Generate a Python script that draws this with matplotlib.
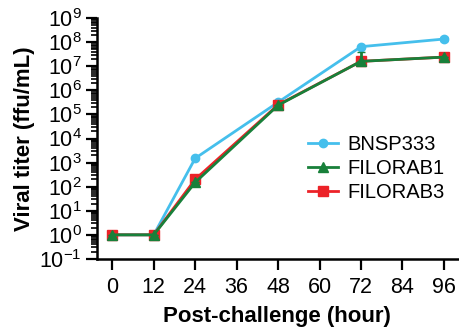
import matplotlib.pyplot as plt
from matplotlib.lines import Line2D
from matplotlib.ticker import LogLocator

plt.rcParams['font.family'] = ['Liberation Sans', 'DejaVu Sans']
plt.rcParams['mathtext.fontset'] = 'custom'
plt.rcParams['mathtext.rm'] = 'Liberation Sans'

hours = [0, 12, 24, 48, 72, 96]
bnsp333 = [1, 1, 1.5e3, 3.2e5, 6.5e7, 1.35e8]
bnsp333_err = [0, 0, 0, 0, 0, 2.5e7]
filorab1 = [1, 1, 1.5e2, 2.4e5, 1.6e7, 2.4e7]
filorab1_err = [0, 0, 0, 0, 2.2e7, 0]
filorab3 = [1, 1, 2.0e2, 2.5e5, 1.6e7, 2.4e7]

blue = '#45BFEC'
green = '#18803A'
red = '#EC2228'

fig = plt.figure(figsize=(4.6, 3.29), dpi=100)
ax = fig.add_axes([0.211, 0.213, 0.784, 0.732])

ax.errorbar(hours, bnsp333, yerr=bnsp333_err, color=blue, marker='o',
            ms=6, lw=2, capsize=3, zorder=3)
ax.errorbar(hours, filorab3, color=red, marker='s', ms=7, lw=2, zorder=4)
ax.errorbar(hours, filorab1, yerr=[[0]*6, filorab1_err], color=green, marker='^',
            ms=6.5, lw=2, capsize=3, zorder=5)

ax.set_yscale('log')
ax.set_ylim(0.1, 1e9)
ax.set_xlim(-4.4, 100)
ax.set_xticks(range(0, 97, 12))
ax.yaxis.set_major_locator(LogLocator(base=10, numticks=20))
ax.yaxis.set_minor_locator(LogLocator(base=10, subs=range(2, 10), numticks=20))

for s in ['top', 'right']:
    ax.spines[s].set_visible(False)
for s in ['left', 'bottom']:
    ax.spines[s].set_linewidth(1.8)
ax.tick_params(which='major', length=8, width=1.6, labelsize=15.5, direction='out')
ax.tick_params(axis='x', pad=5)
ax.tick_params(axis='y', pad=3)
ax.tick_params(which='minor', length=4, width=1.2)

ax.set_xlabel('Post-challenge (hour)', fontsize=16, fontweight='bold', labelpad=6)
ax.set_ylabel('Viral titer (ffu/mL)', fontsize=16, fontweight='bold', labelpad=3)

handles = [
    Line2D([], [], color=blue, marker='o', ms=6, lw=2),
    Line2D([], [], color=green, marker='^', ms=6.5, lw=2),
    Line2D([], [], color=red, marker='s', ms=7, lw=2),
]
labels = ['BNSP333', 'FILORAB1', 'FILORAB3']
fig.legend(handles, labels, frameon=False, fontsize=14.5, loc='upper left',
           bbox_to_anchor=(308 / 460, 1 - 135 / 329), borderaxespad=0, borderpad=0,
           handlelength=1.5, labelspacing=0.25, handletextpad=0.45)

fig.savefig('out.png', dpi=100)
